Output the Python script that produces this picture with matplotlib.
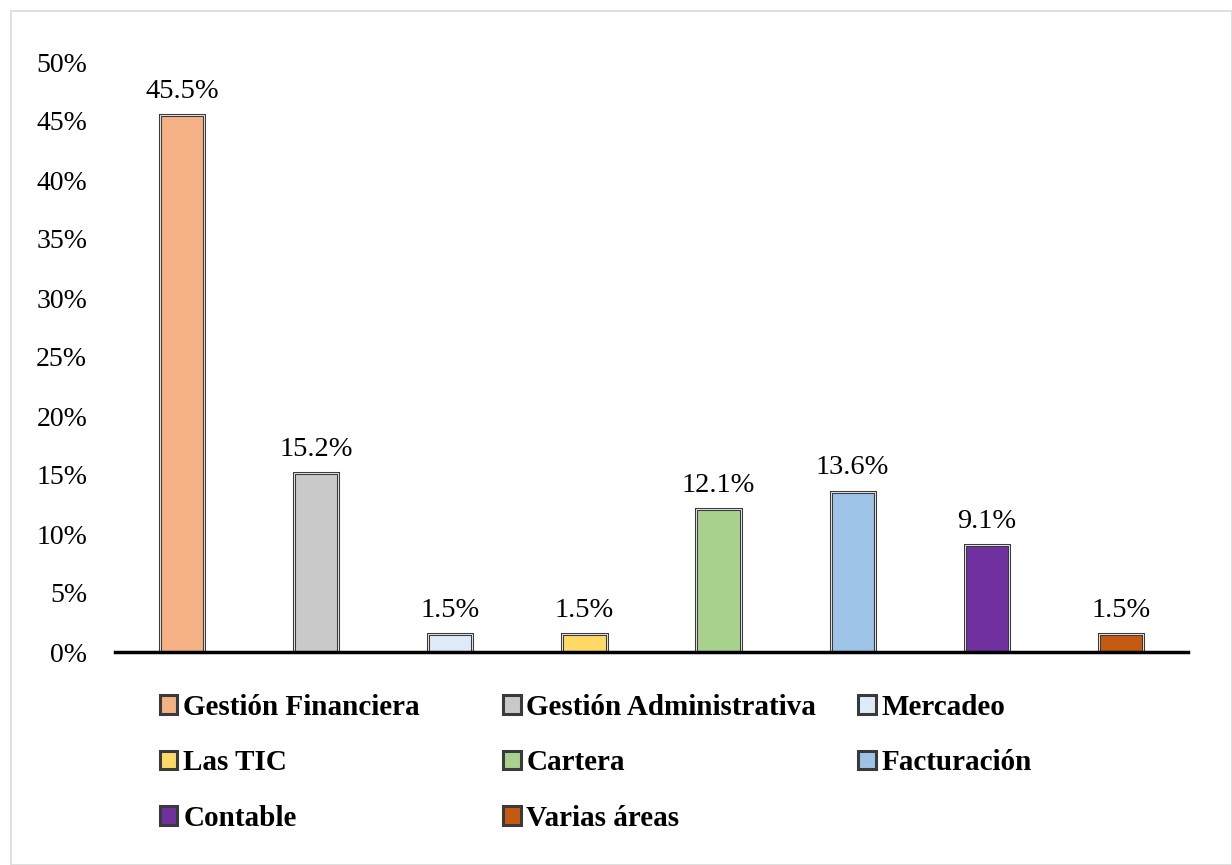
import matplotlib
matplotlib.use("Agg")
import matplotlib.pyplot as plt
from matplotlib.patches import Rectangle
from matplotlib.ticker import FuncFormatter

categories = ["Gestión Financiera", "Gestión Administrativa", "Mercadeo", "Las TIC",
              "Cartera", "Facturación", "Contable", "Varias áreas"]
values = [45.5, 15.2, 1.5, 1.5, 12.1, 13.6, 9.1, 1.5]
colors = ["#F4B183", "#C9C9C9", "#DEEBF7", "#FFD966", "#A9D18E", "#9DC3E6", "#7030A0", "#C55A11"]
yticks = [0, 5, 10, 15, 20, 25, 30, 35, 40, 45, 50]

plt.rcParams['font.family'] = ['Liberation Serif', 'DejaVu Serif']

fig = plt.figure(figsize=(12.32, 8.65), dpi=100)
ax = fig.add_axes([115/1232, 1-652/865, (1188-115)/1232, (652-62)/865])

x = list(range(len(categories)))
bars = ax.bar(x, values, width=0.33, color=colors, edgecolor="#3a3a3a", linewidth=2.2, zorder=2)
ax.bar(x, values, width=0.33, color="none", edgecolor="white", linewidth=0.6, zorder=3)

for xi, v in zip(x, values):
    ax.annotate(f"{v:.1f}%", (xi, v), xytext=(0, 8), textcoords="offset points",
                ha="center", va="bottom", fontsize=20.5, color="black")

ax.set_xlim(-0.5, len(categories) - 0.5)
ax.set_ylim(0, 50)
ax.set_yticks(yticks)
ax.yaxis.set_major_formatter(FuncFormatter(lambda v, p: f"{v:.0f}%"))
ax.tick_params(axis='y', length=0, labelsize=20, pad=20)
ax.tick_params(axis='x', length=0, labelbottom=False)
for s in ["top", "right", "left"]:
    ax.spines[s].set_visible(False)
ax.spines["bottom"].set_linewidth(2.5)
ax.spines["bottom"].set_zorder(4)

# legend in three columns (Excel-like fixed column positions)
groups = [[0, 3, 6], [1, 4, 7], [2, 5]]
col_x = [160, 503, 858]
for g, cx in zip(groups, col_x):
    handles = [bars[i] for i in g]
    labels = [categories[i] for i in g]
    fig.legend(handles, labels, loc="upper left",
               bbox_to_anchor=(cx/1232, 1-694/865), frameon=False,
               prop={"weight": "bold", "size": 21},
               handlelength=0.6, handleheight=0.6, handletextpad=0.2,
               labelspacing=0.97, borderaxespad=0, borderpad=0)

# outer chart border
fig.add_artist(Rectangle((10.5/1232, 0.5/865), 1 - 11/1232, 1 - 11/865,
                         transform=fig.transFigure, fill=False,
                         edgecolor="#d9d9d9", linewidth=1.2))

fig.savefig("out.png", dpi=100)
